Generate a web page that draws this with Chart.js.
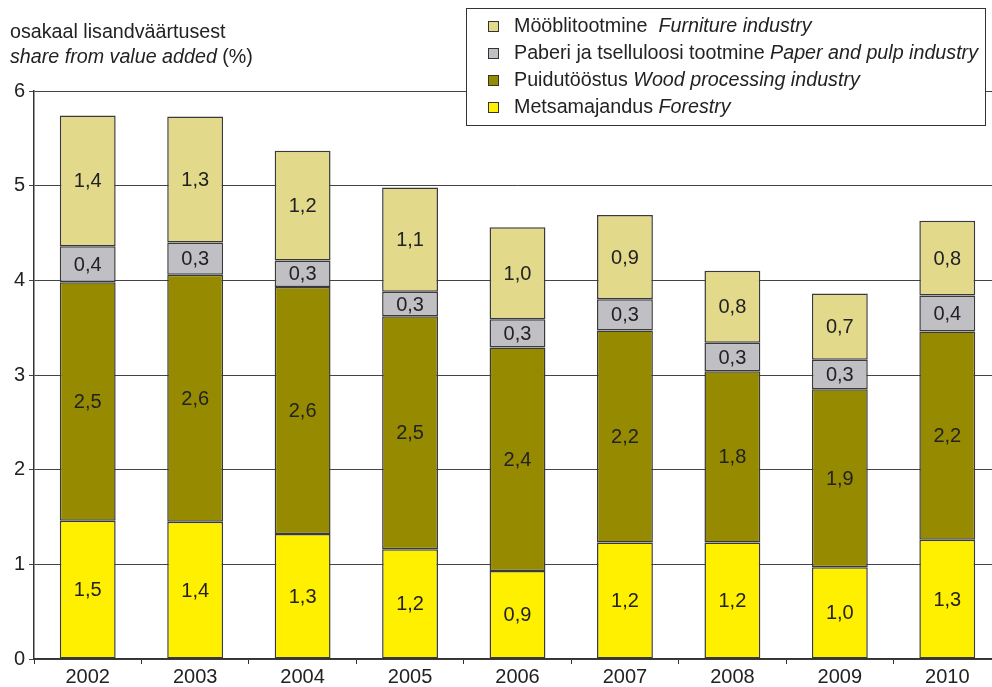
<!DOCTYPE html>
<html>
<head>
<meta charset="utf-8">
<script src="https://cdn.jsdelivr.net/npm/chart.js@4/dist/chart.umd.min.js"></script>
<style>
  html, body { margin: 0; padding: 0; background: #fff; overflow: hidden; }
  #wrap { width: 992px; height: 687px; overflow: hidden; }
  canvas { display: block; }
</style>
</head>
<body>
<div id="wrap"><canvas id="c" width="1001" height="687"></canvas></div>
<script>
// Years on the category axis
const years = ['2002', '2003', '2004', '2005', '2006', '2007', '2008', '2009', '2010'];

// Share of value added (%), by branch, stacked bottom to top
const forestry  = [1.46, 1.45, 1.32, 1.16, 0.93, 1.23, 1.23, 0.97, 1.26];
const wood      = [2.52, 2.61, 2.61, 2.46, 2.36, 2.24, 1.81, 1.88, 2.20];
const paper     = [0.38, 0.34, 0.28, 0.26, 0.30, 0.33, 0.30, 0.31, 0.38];
const furniture = [1.38, 1.33, 1.16, 1.10, 0.97, 0.89, 0.76, 0.70, 0.79];

// Legend texts: Estonian part (upright) and English part (italic)
const namesEt = ['Mööblitootmine  ', 'Paberi ja tselluloosi tootmine ', 'Puidutööstus ', 'Metsamajandus '];
const namesEn = ['Furniture industry', 'Paper and pulp industry', 'Wood processing industry', 'Forestry'];

// Axis title lines
const titleLine1 = 'osakaal lisandväärtusest';
const titleLine2It = 'share from value added';
const titleLine2 = ' (%)';

const FONT = '"Liberation Sans", Arial, sans-serif';
const FS = 20;        // axis ticks and bar labels
const FS_TEXT = 19.7; // title and legend
const colors = {
  forestry: '#FFF000',
  wood: '#968A00',
  paper: '#C0C0C4',
  furniture: '#E2D98A'
};

const segLabels = {
  id: 'segLabels',
  afterDatasetsDraw(chart) {
    const ctx = chart.ctx;
    ctx.save();
    ctx.font = FS + 'px ' + FONT;
    ctx.fillStyle = '#222';
    ctx.textAlign = 'center';
    ctx.textBaseline = 'middle';
    chart.data.datasets.forEach((ds, i) => {
      const meta = chart.getDatasetMeta(i);
      meta.data.forEach((bar, j) => {
        const p = bar.getCenterPoint();
        const txt = ds.data[j].toFixed(1).replace('.', ',');
        ctx.fillText(txt, p.x, p.y + 1);
      });
    });
    ctx.restore();
  }
};

const titleAndLegend = {
  id: 'titleAndLegend',
  afterDraw(chart) {
    const ctx = chart.ctx;
    const up = FS_TEXT + 'px ' + FONT;
    const it = 'italic ' + FS_TEXT + 'px ' + FONT;
    ctx.save();
    ctx.fillStyle = '#222';
    ctx.textBaseline = 'alphabetic';
    ctx.textAlign = 'left';
    // axis title
    ctx.font = up;
    ctx.fillText(titleLine1, 10, 38);
    ctx.font = it;
    ctx.fillText(titleLine2It, 10, 63);
    const w = ctx.measureText(titleLine2It).width;
    ctx.font = up;
    ctx.fillText(titleLine2, 10 + w, 63);

    // legend box
    ctx.fillStyle = '#fff';
    ctx.fillRect(466.5, 8.5, 519, 117);
    ctx.strokeStyle = '#333';
    ctx.lineWidth = 1;
    ctx.strokeRect(466.5, 8.5, 519, 117);
    const order = [3, 2, 1, 0];
    order.forEach((di, k) => {
      const ds = chart.data.datasets[di];
      const cy = 26 + k * 27;
      ctx.fillStyle = ds.backgroundColor;
      ctx.fillRect(488.5, cy - 4.5, 10, 10);
      ctx.strokeStyle = '#333';
      ctx.strokeRect(488.5, cy - 4.5, 10, 10);
      ctx.fillStyle = '#222';
      ctx.textBaseline = 'middle';
      ctx.font = up;
      ctx.fillText(namesEt[k], 514, cy + 1);
      const ww = ctx.measureText(namesEt[k]).width;
      ctx.font = it;
      ctx.fillText(namesEn[k], 514 + ww, cy + 1);
    });
    ctx.restore();
  }
};

const mk = (label, data, color) => ({
  label, data,
  backgroundColor: color,
  borderColor: '#3a3a3a',
  borderWidth: 1.5,
  borderSkipped: false,
  barPercentage: 0.52,
  categoryPercentage: 1.0
});

new Chart(document.getElementById('c'), {
  type: 'bar',
  data: {
    labels: years,
    datasets: [
      mk(namesEn[3], forestry, colors.forestry),
      mk(namesEn[2], wood, colors.wood),
      mk(namesEn[1], paper, colors.paper),
      mk(namesEn[0], furniture, colors.furniture)
    ]
  },
  options: {
    responsive: false,
    animation: false,
    devicePixelRatio: 1,
    layout: { padding: { top: 91, left: 0, right: 0, bottom: 0 } },
    plugins: {
      legend: { display: false },
      tooltip: { enabled: false },
      title: { display: false }
    },
    scales: {
      x: {
        stacked: true,
        grid: { display: true, drawOnChartArea: false, drawTicks: true, tickLength: 5, offset: true, color: '#333', lineWidth: 1 },
        border: { color: '#333', width: 1.5 },
        ticks: { font: { family: FONT, size: FS }, color: '#222', padding: 1, maxRotation: 0 },
        afterFit(scale) { scale.height = 28; }
      },
      y: {
        stacked: true,
        min: 0, max: 6,
        grid: { color: '#444', lineWidth: 1, tickLength: 5, drawTicks: true },
        border: { color: '#333', width: 1.5 },
        ticks: { stepSize: 1, font: { family: FONT, size: FS }, color: '#222', padding: 4 },
        afterFit(scale) { scale.width = 34; }
      }
    }
  },
  plugins: [segLabels, titleAndLegend]
});
</script>
</body>
</html>
